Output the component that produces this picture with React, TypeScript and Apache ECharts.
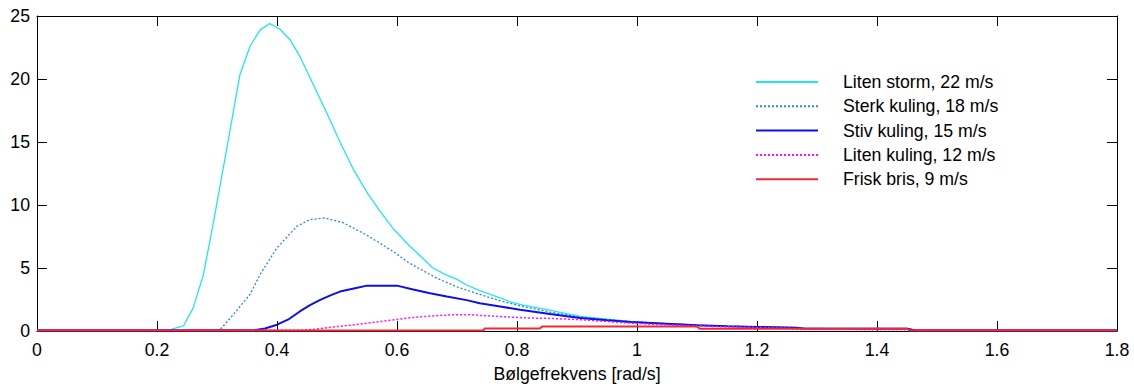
import React, { useEffect, useRef } from "react";
import * as echarts from "echarts";

const xTicks = { min: 0, max: 1.8, interval: 0.2 };
const yTicks = { min: 0, max: 25, interval: 5 };

const seriesNames = [
  "Liten storm, 22 m/s",
  "Sterk kuling, 18 m/s",
  "Stiv kuling, 15 m/s",
  "Liten kuling, 12 m/s",
  "Frisk bris, 9 m/s",
];

const stormX = [0, 0.2, 0.222, 0.244, 0.26, 0.277, 0.294, 0.308, 0.322, 0.338, 0.355, 0.372, 0.388, 0.405, 0.422, 0.438, 0.46, 0.483, 0.505, 0.527, 0.55, 0.572, 0.594, 0.62, 0.64, 0.66, 0.68, 0.7, 0.716, 0.738, 0.766, 0.79, 0.81, 0.85, 0.905, 0.95, 0.988, 1.03, 1.072, 1.11, 1.15, 1.2, 1.266, 1.28, 1.45, 1.465, 1.8];
const stormY = [0.05, 0.05, 0.1, 0.4, 1.8, 4.4, 8.6, 12.3, 16.0, 20.3, 22.6, 23.9, 24.4, 23.95, 23.1, 21.8, 19.6, 17.3, 15.0, 12.85, 11.0, 9.5, 8.1, 6.8, 5.9, 5.0, 4.5, 4.1, 3.65, 3.2, 2.73, 2.3, 2.05, 1.7, 1.16, 0.95, 0.76, 0.62, 0.55, 0.45, 0.38, 0.33, 0.26, 0.2, 0.2, 0.05, 0.05];

const sterkX = [0, 0.29, 0.305, 0.327, 0.355, 0.372, 0.4, 0.433, 0.455, 0.48, 0.51, 0.55, 0.594, 0.62, 0.666, 0.7, 0.738, 0.772, 0.805, 0.855, 0.905, 0.95, 1.0, 1.05, 1.1, 1.15, 1.2, 1.266, 1.28, 1.45, 1.465, 1.8];
const sterkY = [0.05, 0.05, 0.1, 1.3, 2.9, 4.5, 6.6, 8.3, 8.85, 8.97, 8.6, 7.6, 6.3, 5.4, 4.2, 3.5, 2.9, 2.4, 2.0, 1.5, 1.1, 0.9, 0.72, 0.58, 0.46, 0.38, 0.33, 0.26, 0.2, 0.18, 0.05, 0.05];

const stivX = [0, 0.36, 0.38, 0.4, 0.42, 0.438, 0.455, 0.472, 0.49, 0.505, 0.53, 0.55, 0.6, 0.627, 0.655, 0.683, 0.716, 0.738, 0.772, 0.805, 0.855, 0.905, 0.95, 0.988, 1.04, 1.1, 1.15, 1.2, 1.266, 1.28, 1.45, 1.465, 1.8];
const stivY = [0.05, 0.05, 0.2, 0.5, 0.95, 1.55, 2.05, 2.47, 2.85, 3.13, 3.4, 3.6, 3.6, 3.3, 3.0, 2.73, 2.45, 2.2, 1.95, 1.68, 1.35, 1.03, 0.85, 0.71, 0.6, 0.45, 0.37, 0.32, 0.25, 0.18, 0.18, 0.05, 0.05];

const litenKulingX = [0, 0.43, 0.46, 0.49, 0.53, 0.572, 0.6, 0.627, 0.66, 0.694, 0.72, 0.738, 0.77, 0.822, 0.855, 0.905, 0.95, 0.988, 1.03, 1.072, 1.12, 1.15, 1.2, 1.25, 1.27, 1.45, 1.465, 1.8];
const litenKulingY = [0.05, 0.05, 0.12, 0.3, 0.5, 0.76, 0.92, 1.08, 1.2, 1.29, 1.3, 1.24, 1.15, 1.03, 1.0, 0.9, 0.75, 0.63, 0.52, 0.45, 0.37, 0.33, 0.28, 0.22, 0.12, 0.1, 0.05, 0.05];

const friskX = [0, 0.744, 0.746, 0.838, 0.842, 1.1, 1.105, 1.45, 1.455, 1.8];
const friskY = [0.03, 0.03, 0.2, 0.2, 0.35, 0.35, 0.18, 0.18, 0.03, 0.03];

const pair = (xs: number[], ys: number[]) => xs.map((x, i) => [x, ys[i]]);

const FONT = "Liberation Sans, Arial, sans-serif";
const FS = 17.7;

export default function App() {
  const ref = useRef<HTMLDivElement>(null);
  useEffect(() => {
    if (!ref.current) return;
    const chart = echarts.init(ref.current, undefined, { renderer: "svg" });
    const styles = [
      { color: "#1ee8ee", width: 1.3, type: "solid" as any },
      { color: "#2a86d6", width: 1.3, type: [2, 2] as any },
      { color: "#1010e6", width: 2, type: "solid" as any },
      { color: "#ff10ff", width: 1.5, type: [2, 2] as any },
      { color: "#f02a34", width: 2, type: "solid" as any },
    ];
    const datasets = [
      pair(stormX, stormY),
      pair(sterkX, sterkY),
      pair(stivX, stivY),
      pair(litenKulingX, litenKulingY),
      pair(friskX, friskY),
    ];
    const axisCommonX = {
      type: "value" as const,
      min: xTicks.min,
      max: xTicks.max,
      interval: xTicks.interval,
      splitLine: { show: false },
      axisLine: { show: true, onZero: false, lineStyle: { color: "#000", width: 1 } },
      axisTick: { show: true, inside: true, length: 10, lineStyle: { color: "#000", width: 1 } },
    };
    const axisCommonY = {
      type: "value" as const,
      min: yTicks.min,
      max: yTicks.max,
      interval: yTicks.interval,
      splitLine: { show: false },
      axisLine: { show: true, onZero: false, lineStyle: { color: "#000", width: 1 } },
      axisTick: { show: true, inside: true, length: 10, lineStyle: { color: "#000", width: 1 } },
    };
    chart.setOption({
      animation: false,
      backgroundColor: "#fff",
      grid: { left: 37, right: 17, top: 16, bottom: 55, containLabel: false },
      legend: {
        orient: "vertical",
        left: 750,
        top: 68,
        itemWidth: 62,
        itemHeight: 14,
        itemGap: 6.3,
        data: seriesNames,
        itemStyle: { opacity: 0 },
        textStyle: { fontFamily: FONT, fontSize: FS, color: "#000", padding: [0, 0, 0, 20] },
      },
      xAxis: [
        {
          ...axisCommonX,
          position: "bottom",
          name: "Bølgefrekvens [rad/s]",
          nameLocation: "middle",
          nameGap: 34,
          nameTextStyle: { fontFamily: FONT, fontSize: FS, color: "#000" },
          axisLabel: { show: true, margin: 10, fontFamily: FONT, fontSize: FS, color: "#000" },
        },
        { ...axisCommonX, position: "top", axisLabel: { show: false } },
      ],
      yAxis: [
        {
          ...axisCommonY,
          position: "left",
          axisLabel: { show: true, margin: 7, fontFamily: FONT, fontSize: FS, color: "#000" },
        },
        { ...axisCommonY, position: "right", axisLabel: { show: false } },
      ],
      series: seriesNames.map((name, i) => ({
        name,
        type: "line",
        xAxisIndex: 0,
        yAxisIndex: 0,
        data: datasets[i],
        symbol: "none",
        showSymbol: false,
        smooth: false,
        lineStyle: styles[i],
        itemStyle: { color: styles[i].color },
        color: styles[i].color,
      })),
    });
    return () => chart.dispose();
  }, []);
  return (
    <div
      ref={ref}
      style={{ position: "fixed", left: 0, top: 0, width: 1134, height: 388, background: "#fff" }}
    />
  );
}
